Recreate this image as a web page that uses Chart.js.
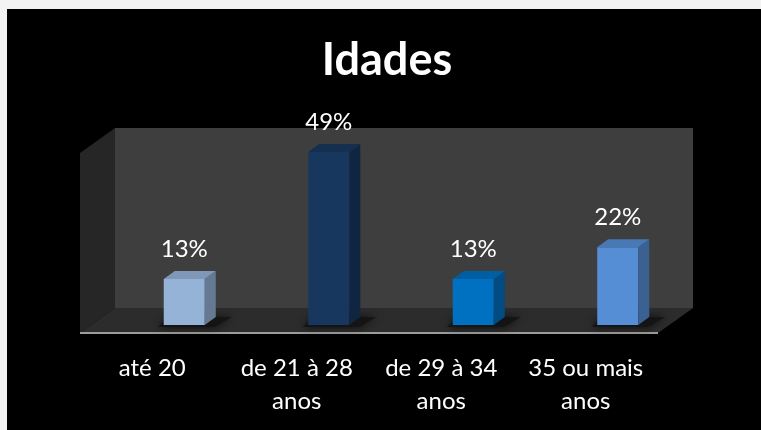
<!DOCTYPE html>
<html>
<head>
<meta charset="utf-8">
<script src="https://cdn.jsdelivr.net/npm/chart.js@4/dist/chart.umd.min.js"></script>
<style>
  html, body { margin: 0; padding: 0; background: #f4f3f3; overflow: hidden; }
  #wrap { width: 761px; height: 430px; }
  canvas { display: block; }
</style>
</head>
<body>
<div id="wrap"><canvas id="idadesChart" width="761" height="430"></canvas></div>
<script>
// dados do gráfico
const titulo = 'Idades';
const faixas = [['até 20'], ['de 21 à 28', 'anos'], ['de 29 à 34', 'anos'], ['35 ou mais', 'anos']];
const percentuais = [13, 49, 13, 22];
const coresBarras = ['#95b3d7', '#17375e', '#0070c0', '#558ed5'];

// profundidade do "3D"
const DX = 35, DY = -25;      // paredes
const BX = 11, BY = -8;       // barras
const SHIFT_X = 32, SHIFT_Y = -8;

function escurecer(hex, f) {
    const n = parseInt(hex.slice(1), 16);
    const r = Math.round(((n >> 16) & 255) * f);
    const g = Math.round(((n >> 8) & 255) * f);
    const b = Math.round((n & 255) * f);
    return 'rgb(' + r + ',' + g + ',' + b + ')';
}

function poly(ctx, pts, cor) {
    ctx.beginPath();
    ctx.moveTo(pts[0][0], pts[0][1]);
    for (let i = 1; i < pts.length; i++) ctx.lineTo(pts[i][0], pts[i][1]);
    ctx.closePath();
    ctx.fillStyle = cor;
    ctx.fill();
}

const fundo3d = {
    id: 'fundo3d',
    beforeDraw(chart) {
        const ctx = chart.ctx;
        ctx.save();
        ctx.fillStyle = '#f4f3f3';
        ctx.fillRect(0, 0, chart.width, chart.height);
        ctx.fillStyle = '#000000';
        ctx.fillRect(7, 9, chart.width - 7, chart.height - 9);
        // título
        ctx.fillStyle = '#ffffff';
        ctx.font = 'bold 45px Lato';
        ctx.textAlign = 'center';
        ctx.textBaseline = 'alphabetic';
        ctx.fillText(titulo, 387, 75);
        ctx.restore();
    },
    beforeDatasetsDraw(chart) {
        const ctx = chart.ctx;
        const a = chart.chartArea;
        const L = a.left, R = a.right, T = a.top, B = a.bottom;
        ctx.save();
        // parede do fundo
        poly(ctx, [[L + DX, T + DY], [R + DX, T + DY], [R + DX, B + DY], [L + DX, B + DY]], '#3e3e3e');
        // parede lateral
        poly(ctx, [[L, T], [L + DX, T + DY], [L + DX, B + DY], [L, B]], '#262626');
        // piso
        poly(ctx, [[L, B], [L + DX, B + DY], [R + DX, B + DY], [R, B]], '#2c2c2c');
        // borda frontal do piso
        ctx.strokeStyle = '#9c9c9c';
        ctx.lineWidth = 2;
        ctx.beginPath();
        ctx.moveTo(L, B);
        ctx.lineTo(R, B);
        ctx.stroke();
        ctx.restore();
    },
    afterDatasetsDraw(chart) {
        const ctx = chart.ctx;
        const meta = chart.getDatasetMeta(0);
        ctx.save();
        meta.data.forEach(function(bar, i) {
            const w = bar.width;
            const x0 = bar.x + SHIFT_X - w / 2;
            const x1 = x0 + w;
            const top = bar.y + SHIFT_Y;
            const bot = bar.base + SHIFT_Y;
            const cor = coresBarras[i];
            // sombra no piso
            ctx.save();
            ctx.shadowColor = 'rgba(0,0,0,0.8)';
            ctx.shadowBlur = 8;
            poly(ctx, [[x0 - 6, bot + 2], [x1 + 10, bot + 2], [x1 + BX + 16, bot - 8], [x0 + 6, bot - 8]], 'rgba(20,20,20,0.9)');
            ctx.restore();
            // face frontal
            poly(ctx, [[x0, top], [x1, top], [x1, bot], [x0, bot]], cor);
            // lateral
            poly(ctx, [[x1, top], [x1 + BX, top + BY], [x1 + BX, bot + BY], [x1, bot]], escurecer(cor, 0.68));
            // topo
            poly(ctx, [[x0, top], [x0 + BX, top + BY], [x1 + BX, top + BY], [x1, top]], escurecer(cor, 0.85));
            // rótulo
            ctx.fillStyle = '#ffffff';
            ctx.font = '24px Lato';
            ctx.textAlign = 'center';
            ctx.textBaseline = 'alphabetic';
            ctx.fillText(percentuais[i] + '%', x0 + w / 2, top + BY - 14);
        });
        ctx.restore();
    }
};

const ctx = document.getElementById('idadesChart').getContext('2d');
new Chart(ctx, {
    type: 'bar',
    data: {
        labels: faixas,
        datasets: [{
            label: titulo,
            data: percentuais,
            backgroundColor: 'rgba(0,0,0,0)',
            borderWidth: 0,
            categoryPercentage: 1,
            barPercentage: 0.284
        }]
    },
    options: {
        responsive: false,
        animation: false,
        layout: { padding: { left: 80, right: 103, top: 153, bottom: 0 } },
        plugins: {
            legend: { display: false },
            tooltip: { enabled: false },
            title: { display: false }
        },
        scales: {
            x: {
                grid: { display: false },
                border: { display: false },
                ticks: {
                    color: '#ffffff',
                    font: { family: 'Lato', size: 24, lineHeight: 1.38 },
                    padding: 11,
                    maxRotation: 0,
                    autoSkip: false
                },
                afterFit(scale) { scale.height = 97; }
            },
            y: {
                display: false,
                min: 0,
                max: 51
            }
        }
    },
    plugins: [fundo3d]
});
</script>
</body>
</html>
